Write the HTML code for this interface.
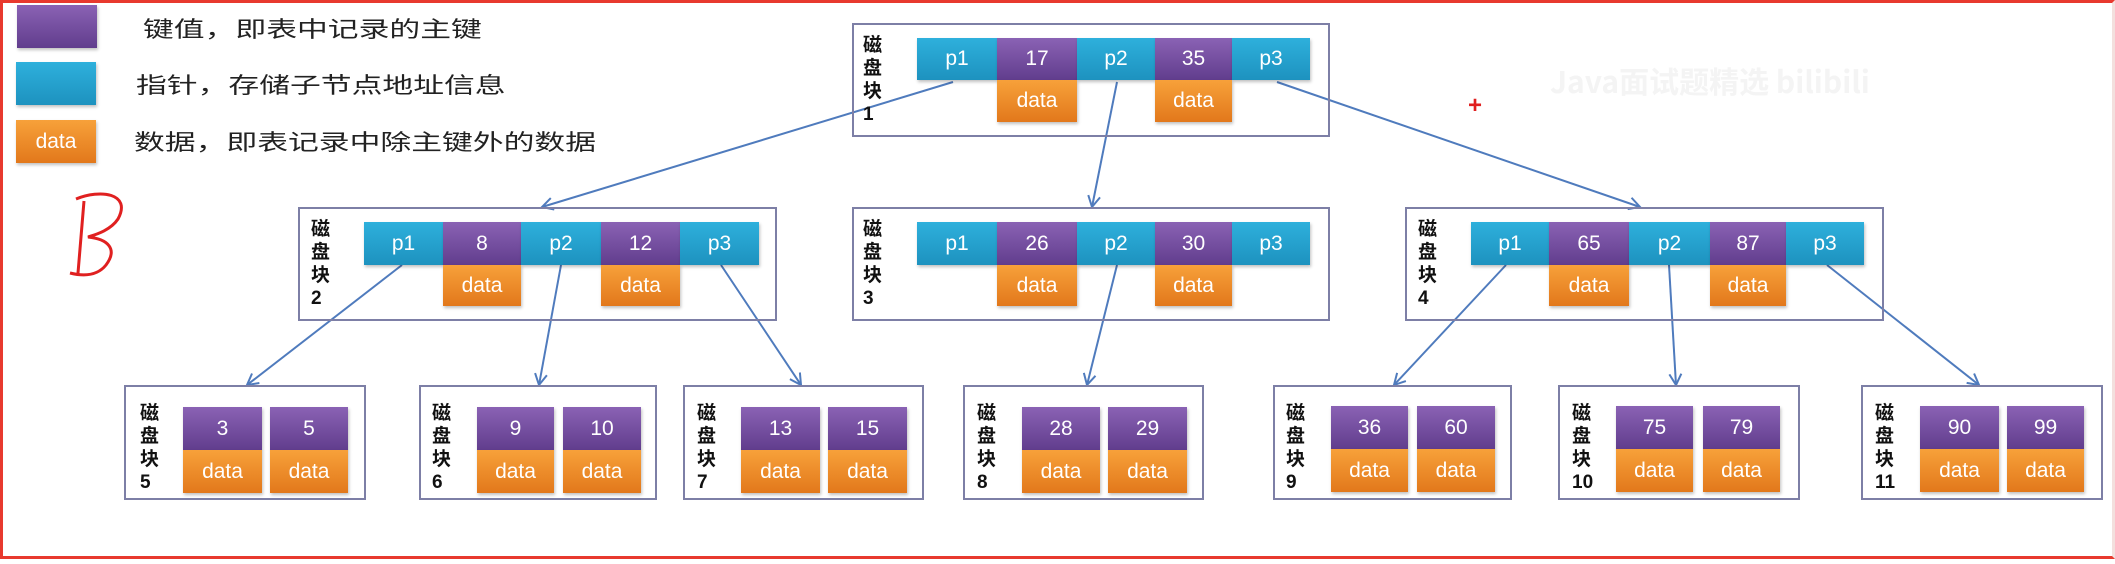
<!DOCTYPE html>
<html><head><meta charset="utf-8">
<style>
body{margin:0;width:2115px;height:564px;background:#fff;position:relative;overflow:hidden;font-family:"Liberation Sans","Noto Sans CJK SC",sans-serif;}
.frame{position:absolute;left:0;top:0;width:2109px;height:553px;border:3px solid #e8392e;border-right-color:#f3e0de;}
.a{position:absolute;}
.box{position:absolute;border:2px solid #7d7fa6;box-sizing:border-box;background:transparent;}
.c{position:absolute;color:#fff;font-size:21px;display:flex;align-items:center;justify-content:center;box-shadow:1px 2px 3px rgba(0,0,0,0.25);}
.b{background:linear-gradient(#2eb0dc,#1d92bf);}
.k{background:linear-gradient(#8a62b4,#613d8d);}
.d{background:linear-gradient(#f7a13a,#e2781b);}
.lbl{position:absolute;font-size:19px;line-height:23px;color:#111;width:22px;text-align:left;font-weight:bold;font-family:"Liberation Sans","Noto Sans CJK SC",sans-serif;}
.leg{position:absolute;font-size:22px;color:#222;transform:scaleX(1.4);transform-origin:left center;white-space:nowrap;font-family:"Noto Sans CJK SC",sans-serif;}
</style></head><body>
<div class="frame"></div>

<div class="c k a" style="left:17px;top:5px;width:80px;height:43px"></div>
<div class="c b a" style="left:16px;top:62px;width:80px;height:43px"></div>
<div class="c d a" style="left:16px;top:120px;width:80px;height:43px">data</div>
<div class="leg" style="left:143px;top:12px">键值，即表中记录的主键</div>
<div class="leg" style="left:136px;top:68px">指针，存储子节点地址信息</div>
<div class="leg" style="left:134px;top:125px">数据，即表记录中除主键外的数据</div>

<svg class="a" style="left:60px;top:185px" width="80" height="100"><path d="M24 16 L18 88 M16 14 C40 4,72 8,58 34 C50 46,34 50,28 52 C48 54,58 64,46 80 C38 90,26 92,10 88" stroke="#e02020" stroke-width="3" fill="none"/></svg>
<div class="a" style="left:1468px;top:92px;color:#e02020;font-size:24px;font-weight:bold">+</div>
<div class="a" style="left:1550px;top:58px;color:#f4f4f4;font-size:30px;font-weight:bold;font-family:'Noto Sans CJK SC',sans-serif">Java面试题精选   bilibili</div>

<svg class="a" style="left:0;top:0" width="2115" height="564">
<defs><marker id="m" markerWidth="14" markerHeight="14" refX="12" refY="7" orient="auto" markerUnits="userSpaceOnUse"><path d="M1 1 L12 7 L1 13" fill="none" stroke="#4f7bbd" stroke-width="2"/></marker></defs>
<g stroke="#4f7bbd" stroke-width="2" fill="none" marker-end="url(#m)">
<line x1="953" y1="82" x2="542" y2="207"/>
<line x1="1117" y1="82" x2="1092" y2="207"/>
<line x1="1277" y1="82" x2="1640" y2="207"/>
<line x1="402" y1="265" x2="247" y2="385"/>
<line x1="561" y1="265" x2="539" y2="385"/>
<line x1="721" y1="265" x2="801" y2="385"/>
<line x1="1117" y1="265" x2="1087" y2="385"/>
<line x1="1506" y1="265" x2="1394" y2="385"/>
<line x1="1669" y1="265" x2="1676" y2="385"/>
<line x1="1827" y1="265" x2="1979" y2="385"/>
</g></svg>

<div class="box" style="left:852px;top:23px;width:478px;height:114px"></div>
<div class="lbl" style="left:863px;top:34px">磁<br>盘<br>块<br>1</div>
<div class="c b" style="left:917px;top:38px;width:80px;height:42px">p1</div>
<div class="c k" style="left:997px;top:38px;width:80px;height:42px">17</div>
<div class="c b" style="left:1077px;top:38px;width:78px;height:42px">p2</div>
<div class="c k" style="left:1155px;top:38px;width:77px;height:42px">35</div>
<div class="c b" style="left:1232px;top:38px;width:78px;height:42px">p3</div>
<div class="c d" style="left:997px;top:80px;width:80px;height:42px">data</div>
<div class="c d" style="left:1155px;top:80px;width:77px;height:42px">data</div>

<div class="box" style="left:298px;top:207px;width:479px;height:114px"></div>
<div class="lbl" style="left:311px;top:218px">磁<br>盘<br>块<br>2</div>
<div class="c b" style="left:364px;top:222px;width:79px;height:43px">p1</div>
<div class="c k" style="left:443px;top:222px;width:78px;height:43px">8</div>
<div class="c b" style="left:521px;top:222px;width:80px;height:43px">p2</div>
<div class="c k" style="left:601px;top:222px;width:79px;height:43px">12</div>
<div class="c b" style="left:680px;top:222px;width:79px;height:43px">p3</div>
<div class="c d" style="left:443px;top:265px;width:78px;height:41px">data</div>
<div class="c d" style="left:601px;top:265px;width:79px;height:41px">data</div>

<div class="box" style="left:852px;top:207px;width:478px;height:114px"></div>
<div class="lbl" style="left:863px;top:218px">磁<br>盘<br>块<br>3</div>
<div class="c b" style="left:917px;top:222px;width:80px;height:43px">p1</div>
<div class="c k" style="left:997px;top:222px;width:80px;height:43px">26</div>
<div class="c b" style="left:1077px;top:222px;width:78px;height:43px">p2</div>
<div class="c k" style="left:1155px;top:222px;width:77px;height:43px">30</div>
<div class="c b" style="left:1232px;top:222px;width:78px;height:43px">p3</div>
<div class="c d" style="left:997px;top:265px;width:80px;height:41px">data</div>
<div class="c d" style="left:1155px;top:265px;width:77px;height:41px">data</div>

<div class="box" style="left:1405px;top:207px;width:479px;height:114px"></div>
<div class="lbl" style="left:1418px;top:218px">磁<br>盘<br>块<br>4</div>
<div class="c b" style="left:1471px;top:222px;width:78px;height:43px">p1</div>
<div class="c k" style="left:1549px;top:222px;width:80px;height:43px">65</div>
<div class="c b" style="left:1629px;top:222px;width:81px;height:43px">p2</div>
<div class="c k" style="left:1710px;top:222px;width:76px;height:43px">87</div>
<div class="c b" style="left:1786px;top:222px;width:78px;height:43px">p3</div>
<div class="c d" style="left:1549px;top:265px;width:80px;height:41px">data</div>
<div class="c d" style="left:1710px;top:265px;width:76px;height:41px">data</div>

<div class="box" style="left:124px;top:385px;width:242px;height:115px"></div>
<div class="lbl" style="left:140px;top:402px">磁<br>盘<br>块<br>5</div>
<div class="c k" style="left:183px;top:407px;width:79px;height:43px">3</div>
<div class="c k" style="left:270px;top:407px;width:78px;height:43px">5</div>
<div class="c d" style="left:183px;top:450px;width:79px;height:43px">data</div>
<div class="c d" style="left:270px;top:450px;width:78px;height:43px">data</div>

<div class="box" style="left:419px;top:385px;width:238px;height:115px"></div>
<div class="lbl" style="left:432px;top:402px">磁<br>盘<br>块<br>6</div>
<div class="c k" style="left:477px;top:407px;width:77px;height:43px">9</div>
<div class="c k" style="left:563px;top:407px;width:78px;height:43px">10</div>
<div class="c d" style="left:477px;top:450px;width:77px;height:43px">data</div>
<div class="c d" style="left:563px;top:450px;width:78px;height:43px">data</div>

<div class="box" style="left:683px;top:385px;width:241px;height:115px"></div>
<div class="lbl" style="left:697px;top:402px">磁<br>盘<br>块<br>7</div>
<div class="c k" style="left:741px;top:407px;width:79px;height:43px">13</div>
<div class="c k" style="left:828px;top:407px;width:79px;height:43px">15</div>
<div class="c d" style="left:741px;top:450px;width:79px;height:43px">data</div>
<div class="c d" style="left:828px;top:450px;width:79px;height:43px">data</div>

<div class="box" style="left:963px;top:385px;width:241px;height:115px"></div>
<div class="lbl" style="left:977px;top:402px">磁<br>盘<br>块<br>8</div>
<div class="c k" style="left:1022px;top:407px;width:78px;height:43px">28</div>
<div class="c k" style="left:1108px;top:407px;width:79px;height:43px">29</div>
<div class="c d" style="left:1022px;top:450px;width:78px;height:43px">data</div>
<div class="c d" style="left:1108px;top:450px;width:79px;height:43px">data</div>

<div class="box" style="left:1273px;top:385px;width:239px;height:115px"></div>
<div class="lbl" style="left:1286px;top:402px">磁<br>盘<br>块<br>9</div>
<div class="c k" style="left:1331px;top:406px;width:77px;height:43px">36</div>
<div class="c k" style="left:1417px;top:406px;width:78px;height:43px">60</div>
<div class="c d" style="left:1331px;top:449px;width:77px;height:43px">data</div>
<div class="c d" style="left:1417px;top:449px;width:78px;height:43px">data</div>

<div class="box" style="left:1558px;top:385px;width:242px;height:115px"></div>
<div class="lbl" style="left:1572px;top:402px">磁<br>盘<br>块<br>10</div>
<div class="c k" style="left:1616px;top:406px;width:77px;height:43px">75</div>
<div class="c k" style="left:1703px;top:406px;width:77px;height:43px">79</div>
<div class="c d" style="left:1616px;top:449px;width:77px;height:43px">data</div>
<div class="c d" style="left:1703px;top:449px;width:77px;height:43px">data</div>

<div class="box" style="left:1861px;top:385px;width:242px;height:115px"></div>
<div class="lbl" style="left:1875px;top:402px">磁<br>盘<br>块<br>11</div>
<div class="c k" style="left:1920px;top:406px;width:79px;height:43px">90</div>
<div class="c k" style="left:2007px;top:406px;width:77px;height:43px">99</div>
<div class="c d" style="left:1920px;top:449px;width:79px;height:43px">data</div>
<div class="c d" style="left:2007px;top:449px;width:77px;height:43px">data</div>
</body></html>
